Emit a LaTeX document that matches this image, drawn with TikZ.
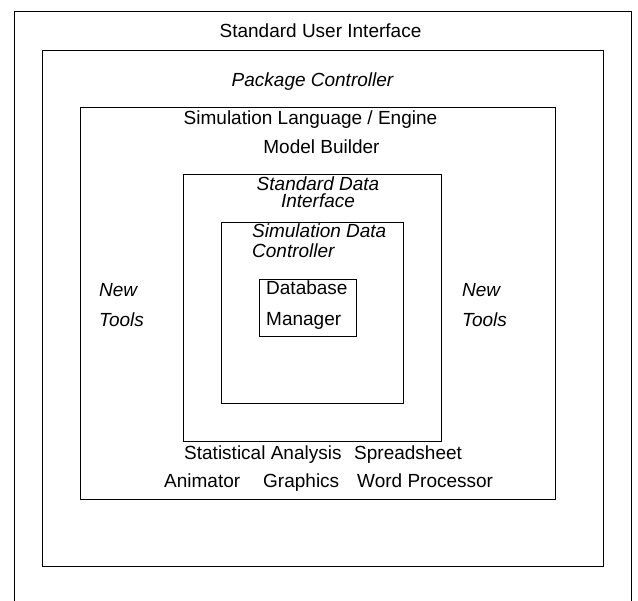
\documentclass[tikz,border=0pt]{standalone}
\usepackage{fontspec}
\setmainfont{Liberation Sans}

\begin{document}
\begin{tikzpicture}[x=1pt, y=-1pt,
		layer/.style = {line width=0.9pt},
		txt/.style = {inner sep=0pt, font=\fontsize{19}{22}\selectfont},
		itxt/.style = {inner sep=0pt, font=\fontsize{19}{22}\selectfont\itshape},
	]
	\path[use as bounding box] (0,0) rectangle (638,601);
	% nested layers, outside in
	\draw[layer] (14,601) -- (14,11) -- (631,11) -- (631,601);
	\draw[layer] (42,50) rectangle (603,566);
	\draw[layer] (80,107) rectangle (555,499);
	\draw[layer] (183,174) rectangle (441,441);
	\draw[layer] (221,222) rectangle (403,403);
	\draw[layer] (259,279) rectangle (356,336);
	% layer names (base = last line)
	\node[txt, anchor=base] (ui) at (320.5,38) {Standard User Interface};
	\node[itxt, anchor=base] (pkg) at (312.5,87) {Package Controller};
	\node[txt, anchor=base] (engine) at (310.5,125) {Simulation Language / Engine};
	\node[txt, anchor=base] (builder) at (321.5,154) {Model Builder};
	\node[itxt, anchor=base, align=center, font=\fontsize{19}{17.5}\selectfont\itshape] (sdi) at (318,208) {Standard Data\\Interface};
	\node[itxt, anchor=base west, align=left, font=\fontsize{19}{20}\selectfont\itshape] (sdc) at (252,258) {Simulation Data\\Controller};
	\node[txt, anchor=base west, align=left, font=\fontsize{19}{31}\selectfont] (db) at (266,326) {Database\\Manager};
	% tools
	\node[itxt, anchor=base west, align=left, font=\fontsize{19}{30}\selectfont\itshape] (newl) at (99,327) {New\\Tools};
	\node[itxt, anchor=base west, align=left, font=\fontsize{19}{30}\selectfont\itshape] (newr) at (462,327) {New\\Tools};
	\node[txt, anchor=base west] (stats) at (184,460) {Statistical Analysis};
	\node[txt, anchor=base west] (sheet) at (354,460) {Spreadsheet};
	\node[txt, anchor=base west] (anim) at (164,488) {Animator};
	\node[txt, anchor=base west] (graph) at (263,488) {Graphics};
	\node[txt, anchor=base west] (word) at (357,488) {Word Processor};
\end{tikzpicture}
\end{document}
